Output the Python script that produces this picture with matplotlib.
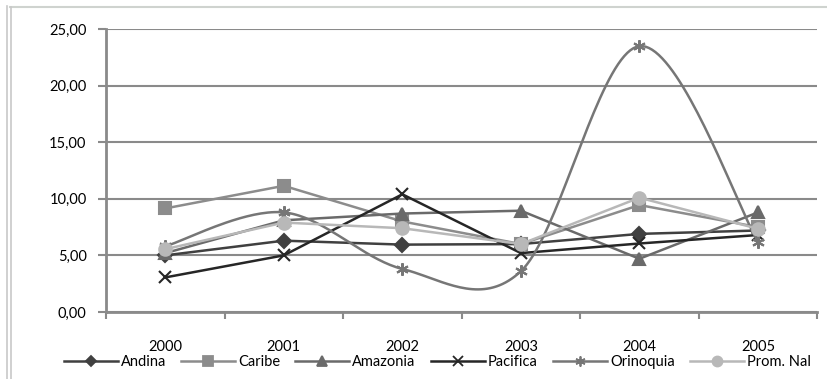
import matplotlib.pyplot as plt
import numpy as np
from matplotlib.lines import Line2D

plt.rcParams['font.family'] = ['Lato', 'DejaVu Sans']

years = ["2000", "2001", "2002", "2003", "2004", "2005"]
andina = [5.0, 6.3, 5.95, 6.0, 6.9, 7.2]
caribe = [9.15, 11.15, 8.0, 6.0, 9.45, 7.5]
amazonia = [5.2, 8.1, 8.7, 8.95, 4.7, 8.8]
pacifica = [3.05, 5.0, 10.4, 5.2, 6.05, 6.8]
orinoquia = [5.8, 8.8, 3.8, 3.6, 23.5, 6.2]
prom_nal = [5.55, 7.9, 7.4, 6.0, 10.1, 7.35]


def smooth(y, n=40):
    # catmull-rom curve through the points (like "smoothed line" in a spreadsheet)
    y = np.asarray(y, dtype=float)
    x = np.arange(len(y), dtype=float)
    px = np.concatenate([[x[0]], x, [x[-1]]])
    py = np.concatenate([[y[0]], y, [y[-1]]])
    xs, ys = [], []
    t = np.linspace(0, 1, n)
    for i in range(1, len(px) - 2):
        p0, p1, p2, p3 = (np.array([px[j], py[j]]) for j in range(i - 1, i + 3))
        c1 = p1 + (p2 - p0) / 6
        c2 = p2 - (p3 - p1) / 6
        b = (np.outer((1 - t) ** 3, p1) + np.outer(3 * (1 - t) ** 2 * t, c1)
             + np.outer(3 * (1 - t) * t ** 2, c2) + np.outer(t ** 3, p2))
        xs.extend(b[:, 0])
        ys.extend(b[:, 1])
    return xs, ys


fig = plt.figure(figsize=(8.28, 3.79), dpi=100)
ax = fig.add_axes([0.128, 0.177, 0.859, 0.746])

x = np.arange(len(years))
grid_c = "#8a8a8a"

series = [
    ("Andina", andina, "#404040", "D", 7, False),
    ("Caribe", caribe, "#8c8c8c", "s", 8.5, False),
    ("Amazonia", amazonia, "#6a6a6a", "^", 9, False),
    ("Pacifica", pacifica, "#262626", "x", 9, False),
    ("Orinoquia", orinoquia, "#767676", (6, 2, 0), 9, True),
    ("Prom. Nal", prom_nal, "#b8b8b8", "o", 9, False),
]

handles = []
for i, (name, vals, col, mk, ms, smoothed) in enumerate(series):
    z = 3 + i
    if smoothed:
        sx, sy = smooth(vals)
        ax.plot(sx, sy, color=col, lw=1.8, zorder=z)
    else:
        ax.plot(x, vals, color=col, lw=1.8, zorder=z)
    ax.plot(x, vals, ls="none", marker=mk, ms=ms, color=col, mec=col,
            mew=1.5, zorder=z)
    handles.append(Line2D([], [], color=col, lw=1.8, marker=mk, ms=ms * 0.8,
                          mec=col, mew=1.3))

ax.set_xlim(-0.5, 5.5)
ax.set_ylim(0, 25)
ax.set_yticks(np.arange(0, 26, 5))
ax.set_yticklabels([f"{v:.2f}".replace(".", ",") for v in np.arange(0, 26, 5)],
                   fontsize=10.5)
ax.yaxis.grid(True, color=grid_c, lw=1.5)
ax.set_axisbelow(True)

ax.set_xticks(np.arange(-0.5, 6, 1))
ax.set_xticklabels([])
ax.set_xticks(x, minor=True)
ax.set_xticklabels(years, minor=True, fontsize=10.5)
ax.tick_params(axis="x", which="major", length=5, width=1.5, color=grid_c,
               direction="out")
ax.tick_params(axis="x", which="minor", length=0, pad=20)
ax.tick_params(axis="y", length=6, width=1.5, color=grid_c, pad=8)

for s in ["top", "right"]:
    ax.spines[s].set_visible(False)
for s in ["left", "bottom"]:
    ax.spines[s].set_color(grid_c)
    ax.spines[s].set_linewidth(2)

fig.legend(handles, [s[0] for s in series], loc="center", ncol=6,
           bbox_to_anchor=(0.528, 0.045), frameon=False, fontsize=10.5,
           handlelength=3.7, handletextpad=0.2, columnspacing=1.05,
           borderaxespad=0, borderpad=0)

# outer chart frame
fig.add_artist(Line2D([10 / 828, 1], [1 - 7 / 379] * 2, color="#cfd3cf", lw=1.5,
                      transform=fig.transFigure))
fig.add_artist(Line2D([7 / 828] * 2, [0, 1 - 6 / 379], color="#c8c8c8", lw=1.2,
                      transform=fig.transFigure))
fig.add_artist(Line2D([11 / 828] * 2, [0, 1 - 7 / 379], color="#c8c8c8", lw=1.2,
                      transform=fig.transFigure))

fig.savefig("out.png", dpi=100)
